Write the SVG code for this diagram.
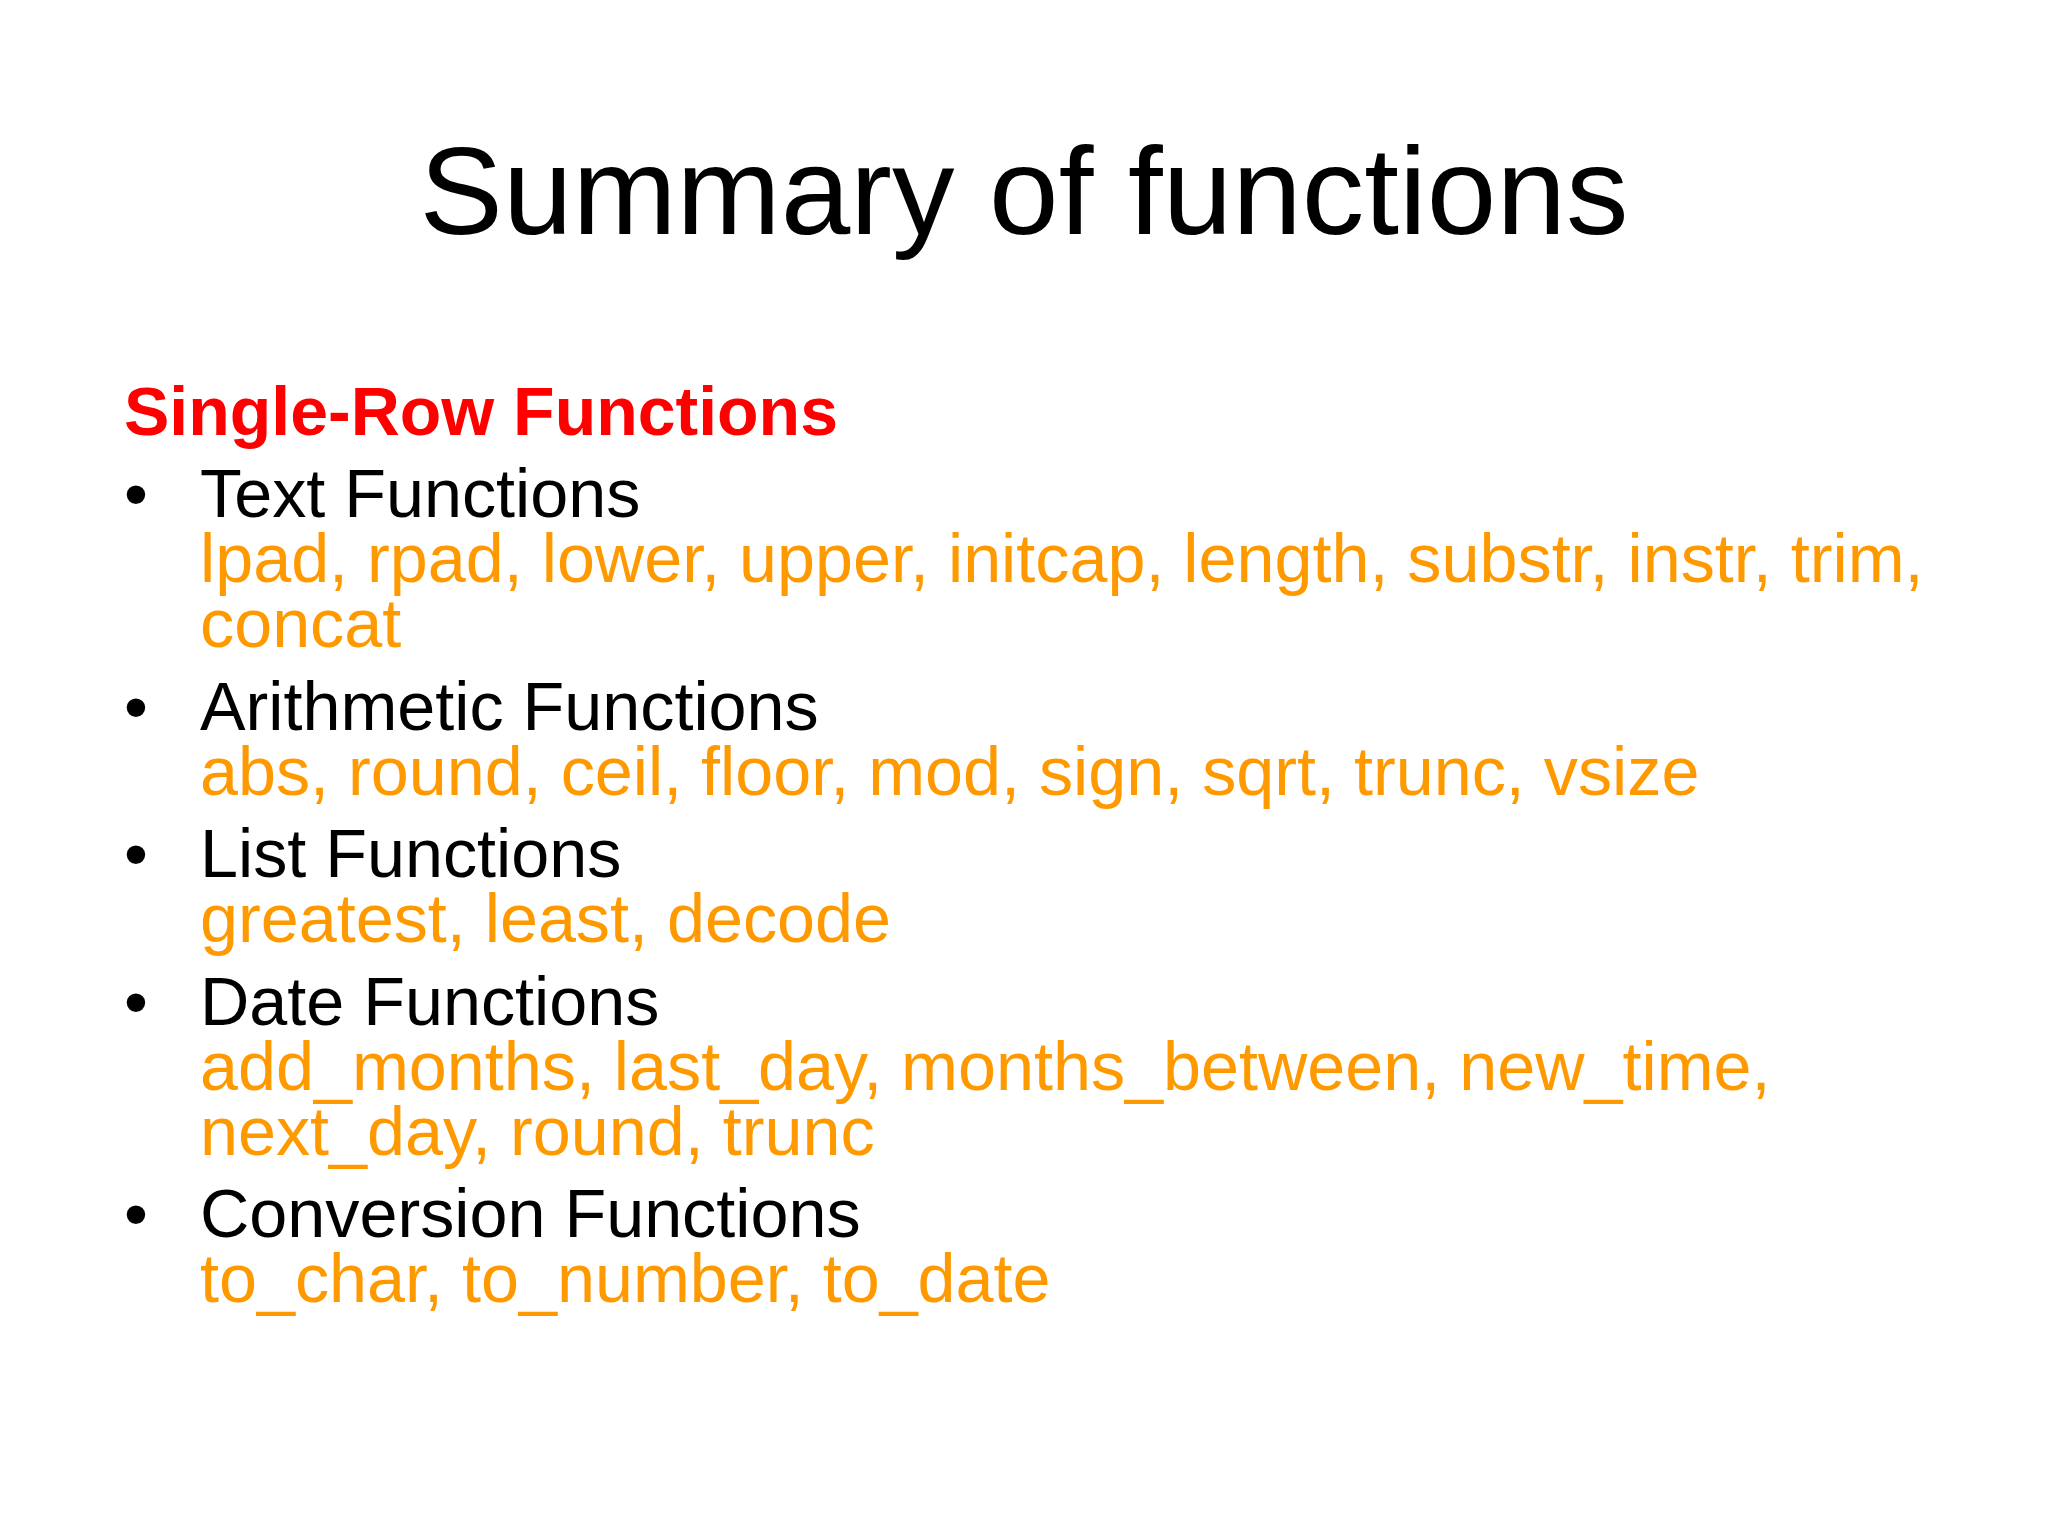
<svg xmlns="http://www.w3.org/2000/svg" width="2048" height="1536" viewBox="0 0 2048 1536">
<style>
text{font-family:"Liberation Sans",Arial,sans-serif}
.title{font-size:125px;fill:#000;text-anchor:middle}
.head{font-size:68px;font-weight:bold;fill:#FF0000}
.item{font-size:68.3px;fill:#000}
.fn{font-size:68.3px;fill:#FF9900}
</style>
<rect width="2048" height="1536" fill="#FFFFFF"/>
<g id="title"><text class="title" x="1024" y="234">Summary of functions</text></g>
<g id="heading"><text class="head" x="124" y="435">Single-Row Functions</text></g>
<g id="text-functions">
<text class="item" x="124" y="517">•</text>
<text class="item" x="200" y="517">Text Functions</text>
<text class="fn" x="200" y="582">lpad, rpad, lower, upper, initcap, length, substr, instr, trim,</text>
<text class="fn" x="200" y="647">concat</text>
</g>
<g id="arithmetic-functions">
<text class="item" x="124" y="730">•</text>
<text class="item" x="200" y="730">Arithmetic Functions</text>
<text class="fn" x="200" y="795">abs, round, ceil, floor, mod, sign, sqrt, trunc, vsize</text>
</g>
<g id="list-functions">
<text class="item" x="124" y="877">•</text>
<text class="item" x="200" y="877">List Functions</text>
<text class="fn" x="200" y="942">greatest, least, decode</text>
</g>
<g id="date-functions">
<text class="item" x="124" y="1025">•</text>
<text class="item" x="200" y="1025">Date Functions</text>
<text class="fn" x="200" y="1090">add_months, last_day, months_between, new_time,</text>
<text class="fn" x="200" y="1155">next_day, round, trunc</text>
</g>
<g id="conversion-functions">
<text class="item" x="124" y="1237">•</text>
<text class="item" x="200" y="1237">Conversion Functions</text>
<text class="fn" x="200" y="1302">to_char, to_number, to_date</text>
</g>
</svg>
